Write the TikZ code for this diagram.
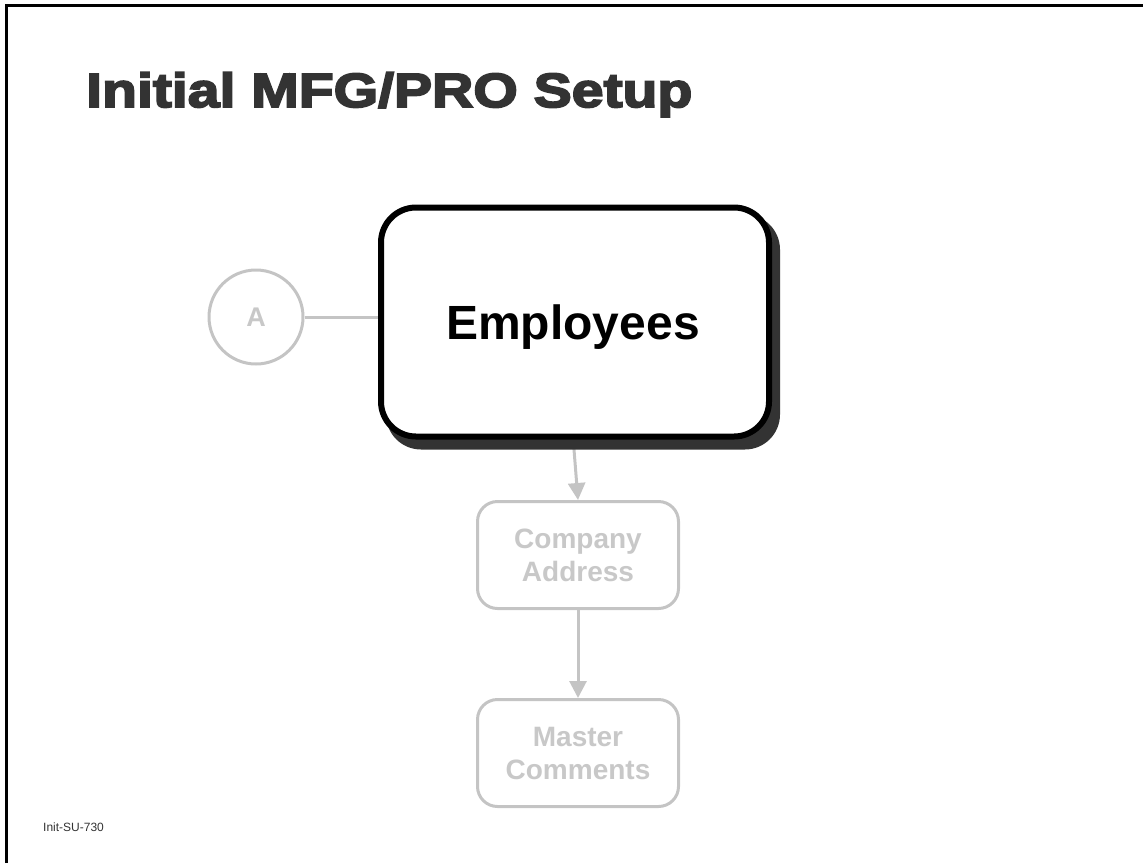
\documentclass[tikz,border=0pt]{standalone}
\usepackage{fontspec}
\setmainfont{Liberation Sans}
\newfontfamily\titlefont[FakeBold=4,FakeStretch=1.19]{Liberation Sans Bold}
\usetikzlibrary{arrows.meta}
\definecolor{dimgray}{HTML}{C4C4C4}
\definecolor{dimtext}{HTML}{C8C8C8}
\definecolor{titlegray}{HTML}{333333}
\definecolor{shadowgray}{HTML}{333333}
\tikzset{
  framestroke/.style={line width=3pt, black},
  mainbox/.style={draw=black, fill=white, line width=6pt, rounded corners=35pt,
    minimum width=388pt, minimum height=229pt, inner sep=0pt},
  shadowbox/.style={fill=shadowgray, rounded corners=35pt, minimum width=394pt,
    minimum height=235pt, inner sep=0pt},
  greybox/.style={draw=dimgray, fill=white, line width=3pt, rounded corners=20pt,
    minimum width=201pt, minimum height=107pt, inner sep=0pt, align=center,
    text=dimtext, font=\fontsize{28}{33}\selectfont\bfseries},
  greycircle/.style={draw=dimgray, line width=3pt, circle, minimum size=94pt,
    inner sep=0pt, text=dimtext, font=\fontsize{27}{30}\selectfont\bfseries},
  greyline/.style={draw=dimgray, line width=3pt},
  greyarrow/.style={greyline, -{Triangle[width=17pt,length=17pt]}},
}
\begin{document}
\begin{tikzpicture}[x=1pt,y=-1pt]
\useasboundingbox (0,0) rectangle (1143,863);
\draw[framestroke] (6,863) -- (6,5) -- (1143,5);
\node[anchor=base west, inner sep=0pt, text=titlegray,
  font=\titlefont\fontsize{48}{55}\selectfont] (title) at (86,107) {Initial MFG/PRO Setup};
% nodes
\node[greycircle] (a) at (256,317) {A};
\node[greybox] (ca) at (578,555) {Company\\Address};
\node[greybox] (mc) at (578,753) {Master\\Comments};
\coordinate (empanchor) at (575,322);
% connectors under the main box
\draw[greyline] (a.east) -- (380,317) coordinate (aend);
\draw[greyarrow] (573,437) coordinate (empbot) -- (ca.north);
\draw[greyarrow] (ca.south) -- (mc.north);
% shadow and main box
\node[shadowbox] (shadow) at (583,332) {};
\node[mainbox] (emp) at (empanchor) {};
\node[font=\fontsize{48}{54}\selectfont\bfseries, inner sep=0pt] (emptext) at (573,327) {Employees};
\node[anchor=base west, inner sep=0pt, text=titlegray, font=\fontsize{12}{14}\selectfont] (code) at (43,831) {Init-SU-730};
\end{tikzpicture}
\end{document}
